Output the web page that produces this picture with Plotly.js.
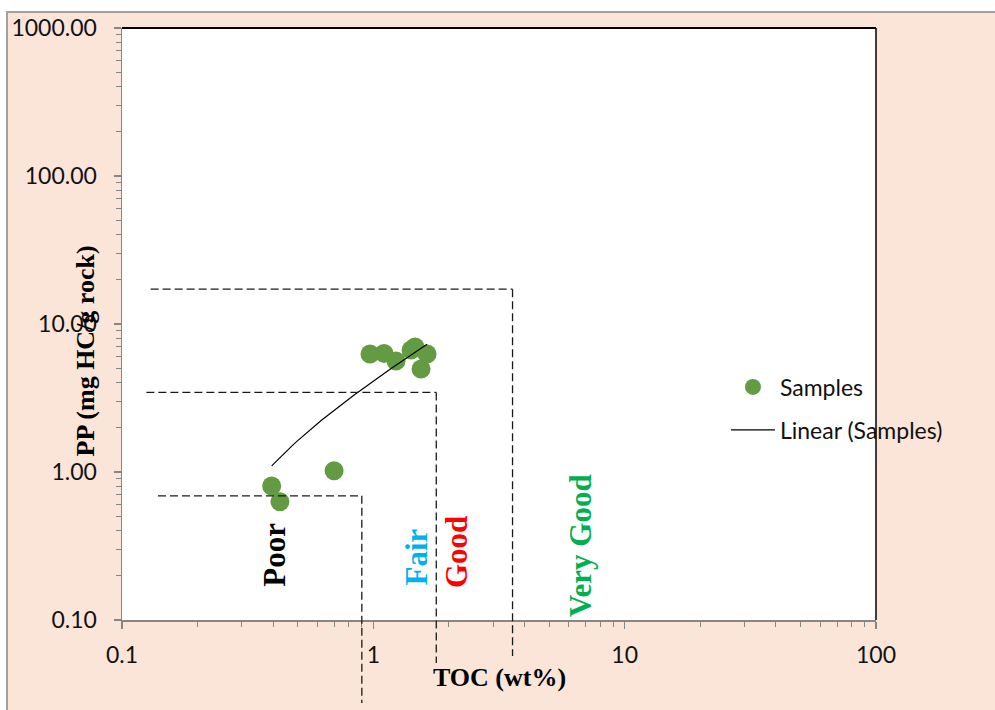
<!DOCTYPE html>
<html>
<head>
<meta charset="utf-8">
<script src="https://cdn.plot.ly/plotly-3.0.1.min.js"></script>
<style>
  html, body { margin:0; padding:0; background:#ffffff; width:995px; height:710px; overflow:hidden; }
  #wrap { position:absolute; left:6px; top:11px; border-left:2px solid #a0a0a0; border-top:2px solid #a0a0a0; width:987px; height:697px; background:#FBE5D8; }
  #chart { width:987px; height:697px; }
</style>
</head>
<body>
<div id="wrap"><div id="chart"></div></div>
<script>
// Sample data (TOC wt%, PP mg HC/g rock)
const toc = [0.394, 0.425, 0.698, 0.970, 1.103, 1.231, 1.413, 1.465, 1.636, 1.548];
const pp  = [0.804, 0.630, 1.02, 6.27, 6.33, 5.62, 6.67, 7.00, 6.27, 4.97];

// Classification limits (dashed boundaries)
const limitTOC = [0.9, 1.78, 3.58];
const limitPP = [0.69, 3.45, 17.2];
const limitStartTOC = [0.139, 0.125, 0.130];
const classNames = ['Poor', 'Fair', 'Good', 'Very Good'];
const classColors = ['#000000', '#00B0F0', '#FF0000', '#00B050'];

const yTickVals = [0.1, 1, 10, 100, 1000];
const xTickVals = [0.1, 1, 10, 100];

// Linear least-squares trendline (as in the spreadsheet "Linear" trendline)
const n = toc.length;
const mx = toc.reduce((a,b)=>a+b,0)/n;
const my = pp.reduce((a,b)=>a+b,0)/n;
let sxy = 0, sxx = 0;
for (let i=0;i<n;i++){ sxy += (toc[i]-mx)*(pp[i]-my); sxx += (toc[i]-mx)*(toc[i]-mx); }
const slope = sxy/sxx, intercept = my - slope*mx;
const xmin = Math.min(...toc), xmax = Math.max(...toc);
const trendX = [], trendY = [];
for (let k=0;k<=60;k++){ const xv = xmin + (xmax-xmin)*k/60; trendX.push(xv); trendY.push(slope*xv+intercept); }

const green = '#629B41';
const traces = [
  { x: toc, y: pp, type:'scatter', mode:'markers', name:'Samples',
    marker:{color:green, size:19, line:{width:0}}, legendgroup:'a', cliponaxis:false },
  { x: trendX, y: trendY, type:'scatter', mode:'lines', name:'Linear (Samples)',
    line:{color:'#000000', width:1.2}, legendgroup:'b' }
];

const toPaperY = v => (Math.log10(v) + 1) / 4;
const vEnds = [-0.140, -0.0726, -0.0608];
const dashStyle = {color:'#1a1a1a', width:1.3, dash:'8px,4px'};
const shapes = [];
for (let i=0;i<3;i++){
  shapes.push({type:'line', xref:'x', yref:'y', x0:limitStartTOC[i], x1:limitTOC[i], y0:limitPP[i], y1:limitPP[i], line:dashStyle});
  shapes.push({type:'line', xref:'x', yref:'paper', x0:limitTOC[i], x1:limitTOC[i], y0:toPaperY(limitPP[i]), y1:vEnds[i], line:dashStyle});
}
// top and right plot border (black)
shapes.push({type:'line', xref:'paper', yref:'paper', x0:0, x1:1, y0:1, y1:1, line:{color:'#000', width:2}});
shapes.push({type:'line', xref:'paper', yref:'paper', x0:1, x1:1, y0:0, y1:1, line:{color:'#000', width:1.5}});

const labelPos = [[0.405, 0.275], [1.486, 0.267], [2.133, 0.288], [6.64, 0.321]];
const serif = 'Liberation Serif, Times New Roman, serif';
const annotations = classNames.map((t,i)=>({
  text:'<b>'+t+'</b>', xref:'x', yref:'y', x:Math.log10(labelPos[i][0]), y:Math.log10(labelPos[i][1]),
  textangle:-90, showarrow:false, font:{family:serif, size:31, color:classColors[i]}
}));
annotations.push({text:'<b>TOC (wt%)</b>', xref:'paper', yref:'paper', x:(499-122)/754, y:-(694-620)/592,
  showarrow:false, font:{family:serif, size:26, color:'#000'}});
annotations.push({text:'<b>PP (mg HC/g rock)</b>', xref:'paper', yref:'paper', x:-(122-68)/754, y:(620-351)/592,
  textangle:-90, showarrow:false, font:{family:serif, size:26, color:'#000'}});

const tickFont = {family:'Lato, Carlito, Calibri, sans-serif', size:23, color:'#111'};
const layout = {
  width:987, height:697,
  margin:{l:114, r:119, t:15, b:90},
  paper_bgcolor:'rgba(0,0,0,0)', plot_bgcolor:'#ffffff',
  showlegend:true,
  legend:{x:0.801, y:0.43, xanchor:'left', yanchor:'top', bgcolor:'rgba(0,0,0,0)', itemwidth:44,
    font:{family:'Lato, Carlito, sans-serif', size:23, color:'#111'}, traceorder:'grouped', tracegroupgap:10},
  xaxis:{type:'log', range:[-1, 2], tickvals:xTickVals, ticktext:xTickVals.map(v=>String(v)),
    showgrid:false, zeroline:false, showline:true, linecolor:'#868686', linewidth:1.5,
    ticks:'outside', ticklen:7, tickcolor:'#868686', tickwidth:1.2, tickfont:tickFont, ticklabelstandoff:7,
    minor:{ticks:'outside', ticklen:5, tickcolor:'#868686', tickwidth:1, dtick:'D1', showgrid:false}},
  yaxis:{type:'log', range:[-1, 3], tickvals:yTickVals, ticktext:yTickVals.map(v=>v.toFixed(2)),
    showgrid:false, zeroline:false, showline:true, linecolor:'#868686', linewidth:1.5,
    ticks:'outside', ticklen:7, tickcolor:'#868686', tickwidth:1.2, tickfont:tickFont, ticklabelstandoff:12,
    minor:{ticks:'outside', ticklen:5, tickcolor:'#868686', tickwidth:1, dtick:'D1', showgrid:false}},
  shapes:shapes, annotations:annotations
};
Plotly.newPlot('chart', traces, layout, {displayModeBar:false, staticPlot:true});
</script>
</body>
</html>
